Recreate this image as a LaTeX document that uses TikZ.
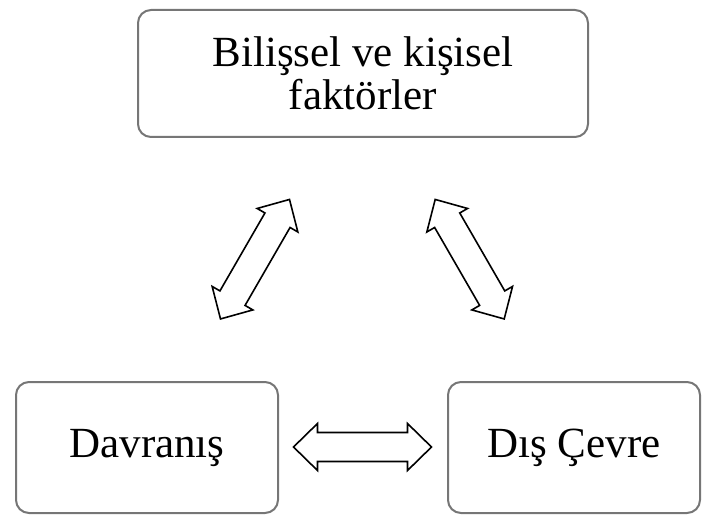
\documentclass[tikz,border=0pt]{standalone}
\usepackage{fontspec}
\setmainfont{Liberation Serif}
\definecolor{boxgray}{RGB}{118,118,118}
\tikzset{
  box/.style={draw=boxgray, line width=2pt, rounded corners=13pt, fill=white,
    inner sep=0pt, align=center, font=\fontsize{43}{43}\selectfont},
  arrowline/.style={draw=black, line width=1.6pt, fill=white, line join=miter},
  pics/dblarrow/.style={code={
    \draw[arrowline] (-69pt,0) -- (-45pt,23.5pt) -- (-45pt,14.5pt) -- (45pt,14.5pt)
      -- (45pt,23.5pt) -- (69pt,0) -- (45pt,-23.5pt) -- (45pt,-14.5pt)
      -- (-45pt,-14.5pt) -- (-45pt,-23.5pt) -- cycle;
  }}
}
\begin{document}
\begin{tikzpicture}[x=1pt,y=1pt]
  \useasboundingbox (0,0) rectangle (702,-516);
  \node[box, minimum width=450pt, minimum height=127pt] (cog) at (363,-73.5)
    {Bilişsel ve kişisel\\faktörler};
  \node[box, minimum width=262pt, minimum height=131pt] (beh) at (147,-447.5)
    {Davranış};
  \node[box, minimum width=252pt, minimum height=131pt] (env) at (574,-447.5)
    {Dış Çevre};
  \coordinate (a1) at (255,-259.2);
  \coordinate (a2) at (469.7,-259.2);
  \coordinate (a3) at (362.5,-447);
  \pic[rotate=60] at (a1) {dblarrow};
  \pic[rotate=-60] at (a2) {dblarrow};
  \pic at (a3) {dblarrow};
\end{tikzpicture}
\end{document}
